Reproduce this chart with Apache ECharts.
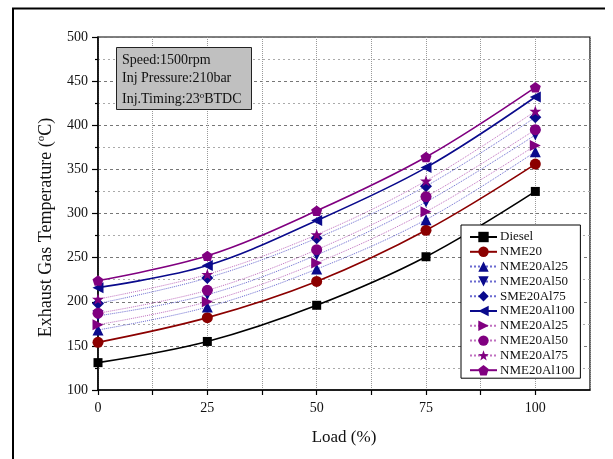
<!DOCTYPE html>
<html>
<head>
<meta charset="utf-8">
<script src="https://cdn.jsdelivr.net/npm/echarts@6/dist/echarts.min.js"></script>
<style>
  html, body { margin: 0; padding: 0; background: #fff; }
  #chart { width: 613px; height: 459px; }
</style>
</head>
<body>
<div id="chart"></div>
<script>
// load (%)
const loads = [0, 25, 50, 75, 100];

// exhaust gas temperature (°C)
const diesel = [131, 155, 196, 251, 325];
const nme20 = [154, 182, 223, 281, 356];
const blueAl25 = [168, 194, 237, 293, 370];
const blueAl50 = [184, 208, 253, 313, 389];
const blueAl75 = [198, 227, 272, 331, 409];
const blueAl100 = [216, 241, 292, 352, 432];
const purAl25 = [174, 200, 244, 302, 377];
const purAl50 = [187, 213, 259, 319, 395];
const purAl75 = [203, 231, 276, 337, 416];
const purAl100 = [224, 252, 303, 364, 443];

const infoLines = ["Speed:1500rpm", "Inj Pressure:210bar", "Inj.Timing:23{s|o}BTDC"];

const serif = "Liberation Serif";
const BLUE = "#0a0a8c";
const PURPLE = "#800080";

const pentagon = "path://M0,-10L9.51,-3.09L5.88,8.09L-5.88,8.09L-9.51,-3.09Z";
const star = "path://M0,-10L2.35,-3.24L9.51,-3.09L3.8,1.24L5.88,8.09L0,4L-5.88,8.09L-3.8,1.24L-9.51,-3.09L-2.35,-3.24Z";

function pts(vals) {
  return loads.map((x, i) => [x, vals[i]]);
}

function makeSeries(name, vals, color, symbol, opts) {
  opts = opts || {};
  return {
    name: name,
    type: "line",
    data: pts(vals),
    smooth: 0.35,
    color: color,
    symbol: symbol,
    symbolSize: opts.size || 10,
    symbolRotate: opts.rotate || 0,
    symbolKeepAspect: true,
    showAllSymbol: true,
    lineStyle: {
      color: opts.lineColor || color,
      width: opts.dotted ? 1 : 1.6,
      type: opts.dotted ? "dotted" : "solid",
    },
    itemStyle: { color: color },
    emphasis: { disabled: true },
    animation: false,
  };
}

const series = [
  makeSeries("Diesel", diesel, "#000", "rect", { size: 9 }),
  makeSeries("NME20", nme20, "#8b0000", "circle", { size: 11 }),
  makeSeries("NME20Al25", blueAl25, BLUE, "triangle", { dotted: true, lineColor: "#6a6ad0", size: 11 }),
  makeSeries("NME20Al50", blueAl50, BLUE, "triangle", { dotted: true, lineColor: "#6a6ad0", size: 11, rotate: 180 }),
  makeSeries("SME20Al75", blueAl75, BLUE, "diamond", { dotted: true, lineColor: "#6a6ad0", size: 12 }),
  makeSeries("NME20Al100", blueAl100, BLUE, "triangle", { size: 11, rotate: 90 }),
  makeSeries("NME20Al25\u200B", purAl25, PURPLE, "triangle", { dotted: true, lineColor: "#c070c0", size: 11, rotate: -90 }),
  makeSeries("NME20Al50\u200B", purAl50, PURPLE, "circle", { dotted: true, lineColor: "#c070c0", size: 11 }),
  makeSeries("NME20Al75\u200B", purAl75, PURPLE, star, { dotted: true, lineColor: "#c070c0", size: 12 }),
  makeSeries("NME20Al100\u200B", purAl100, PURPLE, pentagon, { size: 11 }),
];

const chart = echarts.init(document.getElementById("chart"));

const option = {
  backgroundColor: "#fff",
  animation: false,
  textStyle: { fontFamily: serif },
  grid: {
    left: 98,
    right: 23,
    top: 37,
    bottom: 69,
    show: true,
    borderColor: "#000",
    borderWidth: 1.2,
  },
  legend: {
    orient: "vertical",
    left: 461,
    top: 225,
    width: 105,
    padding: [5, 6, 1, 8],
    itemGap: 0.8,
    itemWidth: 27,
    itemHeight: 13,
    backgroundColor: "#fff",
    borderColor: "#000",
    borderWidth: 1,
    borderRadius: 0,
    selectedMode: false,
    textStyle: { fontFamily: serif, fontSize: 13, color: "#111", lineHeight: 14, padding: [0, 0, 0, -2] },
    data: series.map((s) => s.name),
  },
  xAxis: {
    type: "value",
    min: 0,
    max: 112.5,
    interval: 12.5,
    name: "Load (%)",
    nameLocation: "middle",
    nameGap: 39,
    nameTextStyle: { fontFamily: serif, fontSize: 17, color: "#111" },
    axisLine: { show: true, lineStyle: { color: "#000", width: 1.5 } },
    axisTick: { show: true, inside: false, length: 5, lineStyle: { color: "#000", width: 1.2 } },
    axisLabel: {
      margin: 11,
      fontFamily: serif,
      fontSize: 14,
      color: "#111",
      showMaxLabel: false,
      formatter: (v) => (v % 25 === 0 && v <= 100 ? String(v) : ""),
    },
    splitLine: { show: true, lineStyle: { color: "#999", type: "dotted", width: 1 } },
  },
  yAxis: {
    type: "value",
    min: 100,
    max: 500,
    interval: 50,
    name: "Exhaust Gas Temperature ({s|o}C)",
    nameLocation: "middle",
    nameGap: 42,
    nameRotate: 90,
    nameTextStyle: {
      fontFamily: serif,
      fontSize: 18,
      color: "#111",
      padding: [0, 28, 0, 0],
      rich: {
        s: { fontFamily: serif, fontSize: 11, color: "#111", padding: [0, 0, 9, 0] },
      },
    },
    axisLine: { show: true, lineStyle: { color: "#000", width: 1.5 } },
    axisTick: { show: true, inside: false, length: 6, lineStyle: { color: "#000", width: 1.2 } },
    minorTick: { show: true, splitNumber: 2, length: 3, lineStyle: { color: "#000", width: 1.2 } },
    axisLabel: { margin: 10, fontFamily: serif, fontSize: 14, color: "#111" },
    splitLine: { show: true, lineStyle: { color: "#777", type: [3, 3], width: 1 } },
    minorSplitLine: { show: true, lineStyle: { color: "#aaa", type: [2, 3], width: 1 } },
  },
  graphic: [
    { type: "line", shape: { x1: 12, y1: 8.5, x2: 605, y2: 8.5 }, style: { stroke: "#000", lineWidth: 2 } },
    { type: "line", shape: { x1: 13, y1: 8, x2: 13, y2: 459 }, style: { stroke: "#000", lineWidth: 2 } },
    {
      type: "rect",
      shape: { x: 116.5, y: 47.5, width: 135, height: 62 },
      style: { fill: "#c0c0c0", stroke: "#222", lineWidth: 1 },
      z: 10,
    },
  ].concat(
    infoLines.map((t, i) => ({
      type: "text",
      left: 122,
      top: [53, 71, 91][i],
      z: 11,
      style: {
        text: t,
        font: "14px " + serif,
        fill: "#111",
        rich: {
          s: { font: "9px " + serif, fill: "#111", padding: [0, 0, 8, 0] },
        },
      },
    }))
  ),
  series: series,
};

chart.setOption(option);
</script>
</body>
</html>
